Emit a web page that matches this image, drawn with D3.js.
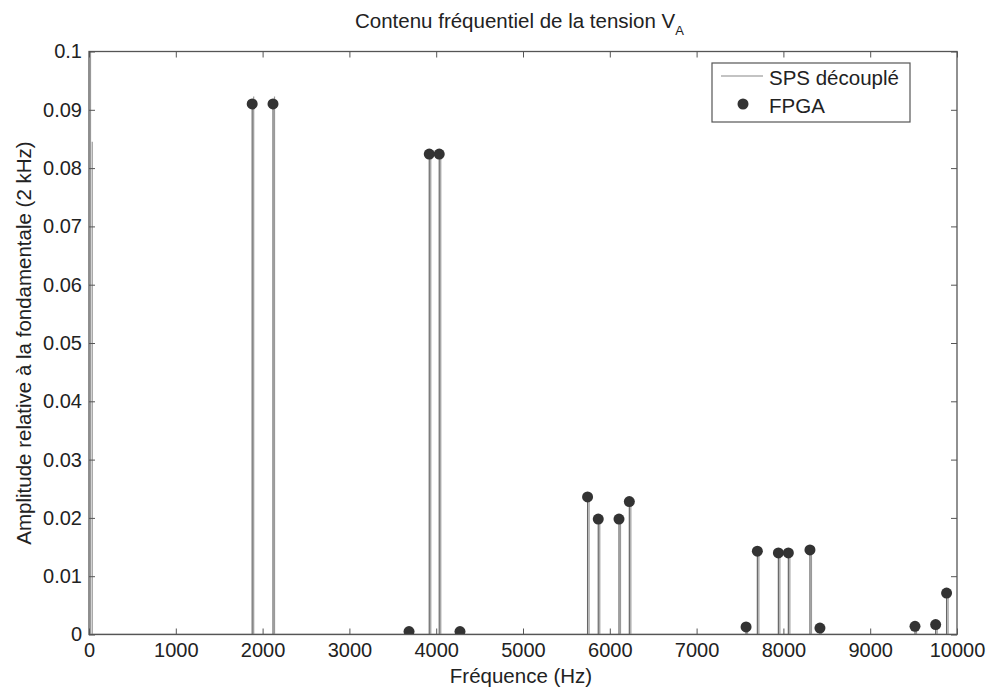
<!DOCTYPE html>
<html><head><meta charset="utf-8">
<script src="https://cdn.jsdelivr.net/npm/d3@7"></script>
<style>body{margin:0;background:#fff}svg{font-family:"Liberation Sans",Arial,sans-serif}</style>
</head><body><svg id="c" width="989" height="687"></svg>
<script>
// SPS découplé spectrum (stems)
const spsFreq = [0, 20, 1880, 2120, 3920, 4035, 5744, 5867, 6106, 6225, 7570, 7700, 7942, 8057, 8306, 8421, 9516, 9754, 9880];
const spsAmp  = [0.2, 0.0845, 0.0923, 0.0923, 0.0830, 0.0830, 0.0236, 0.0198, 0.0198, 0.0228, 0.0012, 0.0143, 0.0140, 0.0140, 0.0145, 0.0010, 0.0013, 0.0017, 0.0070];
// FPGA (markers)
const fpgaFreq = [1880, 2120, 3687, 3920, 4035, 4274, 5744, 5867, 6106, 6225, 7570, 7700, 7942, 8057, 8306, 8421, 9516, 9754, 9880];
const fpgaAmp  = [0.0910, 0.0910, 0.0005, 0.0824, 0.0824, 0.0005, 0.0236, 0.0198, 0.0198, 0.0228, 0.0013, 0.0143, 0.0140, 0.0140, 0.0145, 0.0011, 0.0014, 0.0017, 0.0071];
const xTicks = [0,1000,2000,3000,4000,5000,6000,7000,8000,9000,10000];
const yTicks = [0,0.01,0.02,0.03,0.04,0.05,0.06,0.07,0.08,0.09,0.1];
const yTickLabels = ["0","0.01","0.02","0.03","0.04","0.05","0.06","0.07","0.08","0.09","0.1"];

const svg = d3.select("#c");
const L=89, R=957, T=51.5, B=634.5;
const x = d3.scaleLinear().domain([0,10000]).range([L,R]);
const y = d3.scaleLinear().domain([0,0.1]).range([B,T]);

svg.append("clipPath").attr("id","clip").append("rect").attr("x",L).attr("y",T).attr("width",R-L).attr("height",B-T);
const g = svg.append("g").attr("clip-path","url(#clip)");

// SPS baseline + stems
g.append("line").attr("x1",x(0)).attr("x2",x(10000)).attr("y1",y(0)).attr("y2",y(0)).attr("stroke","#777").attr("stroke-width",1.5);
g.selectAll(".sps").data(spsFreq).join("line")
  .attr("x1",(d)=>x(d)+1.5).attr("x2",(d)=>x(d)+1.5)
  .attr("y1",y(0)).attr("y2",(d,i)=>y(spsAmp[i]))
  .attr("stroke","#999").attr("stroke-width",1.2);
// FPGA stems + markers
g.selectAll(".fs").data(fpgaFreq).join("line")
  .attr("x1",(d)=>x(d)).attr("x2",(d)=>x(d))
  .attr("y1",y(0)).attr("y2",(d,i)=>y(fpgaAmp[i]))
  .attr("stroke","#666").attr("stroke-width",1.2);
g.selectAll(".fm").data(fpgaFreq).join("circle")
  .attr("cx",(d)=>x(d)).attr("cy",(d,i)=>y(fpgaAmp[i])).attr("r",5.5)
  .attr("fill","#333");

// frame
svg.append("rect").attr("x",L).attr("y",T).attr("width",R-L).attr("height",B-T)
  .attr("fill","none").attr("stroke","#555").attr("stroke-width",1.3);

// axes (inward ticks, mirrored)
const xb = d3.axisBottom(x).tickValues(xTicks).tickSizeInner(-6).tickSizeOuter(0).tickPadding(8).tickFormat(d3.format("d"));
const xt = d3.axisTop(x).tickValues(xTicks).tickSizeInner(-6).tickSizeOuter(0).tickFormat("");
const yl = d3.axisLeft(y).tickValues(yTicks).tickSizeInner(-6).tickSizeOuter(0).tickPadding(7).tickFormat((d,i)=>yTickLabels[i]);
const yr = d3.axisRight(y).tickValues(yTicks).tickSizeInner(-6).tickSizeOuter(0).tickFormat("");
function style(sel){sel.select(".domain").remove();sel.selectAll("line").attr("stroke","#555");sel.selectAll("text").attr("fill","#222").style("font-size","20px").style("font-family","'Liberation Sans',Arial,sans-serif");}
svg.append("g").attr("transform",`translate(0,${B})`).call(xb).call(style);
svg.append("g").attr("transform",`translate(0,${T})`).call(xt).call(style);
svg.append("g").attr("transform",`translate(${L},0)`).call(yl).call(style);
svg.append("g").attr("transform",`translate(${R},0)`).call(yr).call(style);

// labels
const title = svg.append("text").attr("x",355).attr("y",28).attr("fill","#222").style("font-size","20.5px");
title.append("tspan").text("Contenu fréquentiel de la tension V");
title.append("tspan").attr("dy",7).style("font-size","13px").text("A");
svg.append("text").attr("x",521).attr("y",683).attr("text-anchor","middle").attr("fill","#222").style("font-size","20.5px").text("Fréquence (Hz)");
svg.append("text").attr("transform","translate(31,343) rotate(-90)").attr("text-anchor","middle").attr("fill","#222").style("font-size","20.5px").text("Amplitude relative à la fondamentale (2 kHz)");

// legend
const lg = svg.append("g");
lg.append("rect").attr("x",712).attr("y",63).attr("width",198).attr("height",59).attr("fill","#fff").attr("stroke","#555").attr("stroke-width",1.2);
lg.append("line").attr("x1",721).attr("x2",763).attr("y1",76).attr("y2",76).attr("stroke","#888").attr("stroke-width",1.2);
lg.append("text").attr("x",769).attr("y",85).attr("fill","#222").style("font-size","20.5px").text("SPS découplé");
lg.append("circle").attr("cx",743).attr("cy",104).attr("r",5.5).attr("fill","#333");
lg.append("text").attr("x",769).attr("y",113).attr("fill","#222").style("font-size","20.5px").text("FPGA");
</script></body></html>
